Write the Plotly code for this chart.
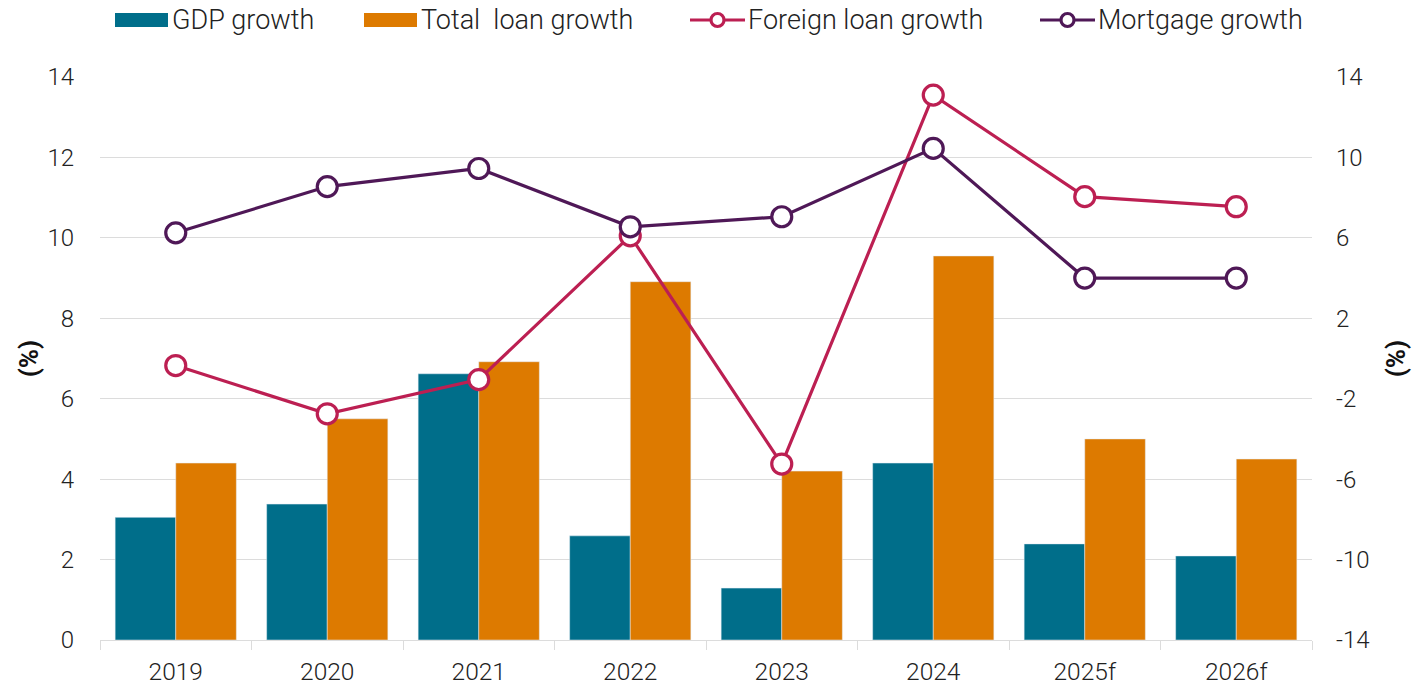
import plotly.graph_objects as go

# Categories and series values
years = ["2019", "2020", "2021", "2022", "2023", "2024", "2025f", "2026f"]
gdp_growth = [3.05, 3.38, 6.62, 2.59, 1.29, 4.40, 2.39, 2.09]
total_loan_growth = [4.40, 5.50, 6.92, 8.91, 4.20, 9.55, 5.00, 4.50]
foreign_loan_growth = [-0.35, -2.75, -1.05, 6.10, -5.25, 13.10, 8.05, 7.55]
mortgage_growth = [6.25, 8.55, 9.45, 6.55, 7.05, 10.45, 4.00, 4.00]

left_ticks = [0, 2, 4, 6, 8, 10, 12, 14]
right_ticks = [-14, -10, -6, -2, 2, 6, 10, 14]

C_GDP = "#006E8A"
C_LOAN = "#DD7A00"
C_FOREIGN = "#BC1F52"
C_MORT = "#4F1857"
GRID = "#DCDCDC"
TXT = "#222222"

W, H = 1412, 687
L, R, T, B = 100, 100, 77, 47
FONT = "Roboto, Open Sans, sans-serif"

fig = go.Figure()
fig.add_trace(go.Bar(x=years, y=gdp_growth, name="GDP growth", marker_color=C_GDP))
fig.add_trace(go.Bar(x=years, y=total_loan_growth, name="Total  loan growth", marker_color=C_LOAN))
for name, vals, col in [("Foreign loan growth", foreign_loan_growth, C_FOREIGN),
                        ("Mortgage growth", mortgage_growth, C_MORT)]:
    fig.add_trace(go.Scatter(
        x=years, y=vals, name=name, yaxis="y2", mode="lines+markers",
        line=dict(color=col, width=3.2),
        marker=dict(symbol="circle", size=20, color="white", line=dict(color=col, width=3.2)),
    ))

tick_font = dict(family=FONT, size=24, weight=300, color=TXT)
title_font = dict(family=FONT, size=26, weight="bold", color="#111111")

fig.update_layout(
    width=W, height=H,
    margin=dict(l=L, r=R, t=T, b=B),
    paper_bgcolor="white", plot_bgcolor="white",
    barmode="group", bargap=0.2, bargroupgap=0,
    showlegend=False,
    font=dict(family=FONT, color=TXT),
    xaxis=dict(
        type="category", tickson="boundaries", ticks="outside", ticklen=9,
        tickcolor=GRID, showline=True, linecolor=GRID, linewidth=1,
        tickfont=dict(family=FONT, size=24.5, weight=300, color=TXT),
        ticklabelstandoff=10, automargin=False,
    ),
    yaxis=dict(
        range=[0, 14], tickvals=left_ticks, showgrid=True, gridcolor=GRID, gridwidth=1,
        zeroline=False, tickfont=tick_font, ticklabelstandoff=25, automargin=False,
        title=dict(text="(%)", font=title_font, standoff=1),
    ),
    yaxis2=dict(
        range=[-14, 14], tickvals=right_ticks, ticktext=[str(v) for v in right_ticks],
        overlaying="y", side="right", showgrid=False, zeroline=False,
        tickfont=tick_font, ticklabelstandoff=23, automargin=False,
        title=dict(text="(%)", font=title_font, standoff=18),
    ),
)

# Legend drawn across the top
def px(x):
    return (x - L) / (W - L - R)

def py(y):
    return (H - B - y) / (H - T - B)

legend_y = 20
legend_font = dict(family=FONT, size=27, weight=300, color=TXT)
for x0, label, col in [(115, "GDP growth", C_GDP), (364, "Total  loan growth", C_LOAN)]:
    fig.add_shape(type="rect", xref="paper", yref="paper",
                  x0=px(x0), x1=px(x0 + 53), y0=py(legend_y + 7), y1=py(legend_y - 7),
                  fillcolor=col, line=dict(width=0))
    fig.add_annotation(text=label, xref="paper", yref="paper", x=px(x0 + 55), y=py(legend_y),
                       xanchor="left", yanchor="middle", showarrow=False, font=legend_font)
for x0, label, col in [(690, "Foreign loan growth", C_FOREIGN), (1040, "Mortgage growth", C_MORT)]:
    fig.add_shape(type="line", xref="paper", yref="paper",
                  x0=px(x0), x1=px(x0 + 55), y0=py(legend_y), y1=py(legend_y),
                  line=dict(color=col, width=3.2))
    fig.add_shape(type="circle", xref="paper", yref="paper",
                  x0=px(x0 + 21), x1=px(x0 + 34), y0=py(legend_y + 6.5), y1=py(legend_y - 6.5),
                  fillcolor="white", line=dict(color=col, width=3.2))
    fig.add_annotation(text=label, xref="paper", yref="paper", x=px(x0 + 56), y=py(legend_y),
                       xanchor="left", yanchor="middle", showarrow=False, font=legend_font)

fig.write_html("out.html")
